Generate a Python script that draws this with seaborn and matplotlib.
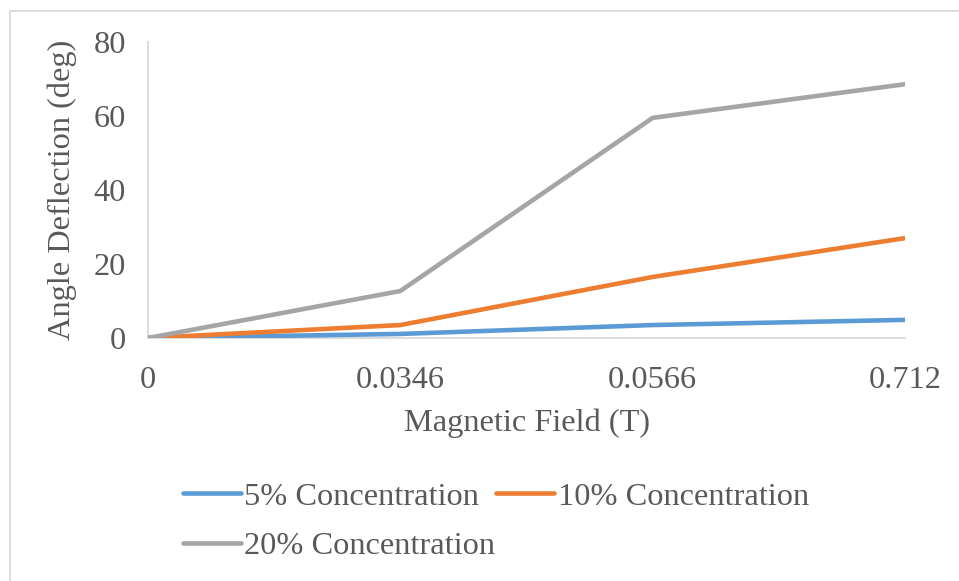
import matplotlib
matplotlib.use("Agg")
import matplotlib.pyplot as plt
import seaborn as sns
import pandas as pd
from matplotlib.patches import Rectangle

field = ["0", "0.0346", "0.0566", "0.712"]
conc_5 = [0.0, 1.1, 3.5, 4.9]
conc_10 = [0.0, 3.5, 16.5, 27.0]
conc_20 = [0.0, 12.7, 59.5, 68.6]
series_names = ["5% Concentration", "10% Concentration", "20% Concentration"]
colors = ["#5B9BD5", "#ED7D31", "#A5A5A5"]

rows = []
for name, vals in zip(series_names, [conc_5, conc_10, conc_20]):
    for f, v in zip(field, vals):
        rows.append({"Magnetic Field (T)": f, "Angle": v, "Series": name})
df = pd.DataFrame(rows)

sns.set_theme(style="white")
plt.rcParams["font.family"] = ["Liberation Serif", "DejaVu Serif"]
text_color = "#595959"
fs = 23.3

fig = plt.figure(figsize=(9.59, 5.81), dpi=100)
ax = fig.add_axes([148/959, 1-338/581, (905-148)/959, (338-42)/581])

sns.lineplot(data=df, x="Magnetic Field (T)", y="Angle", hue="Series",
             palette=colors, hue_order=series_names, sort=False,
             linewidth=3.3, ax=ax, legend=True)
for ln in ax.lines:
    ln.set_solid_capstyle("round")
    ln.set_solid_joinstyle("round")

ax.set_ylim(0, 80)
ax.set_xlim(0, 3)
ax.set_yticks([0, 20, 40, 60, 80])
ax.tick_params(axis="both", length=0, labelsize=fs, labelcolor=text_color)
ax.tick_params(axis="y", pad=16)
ax.tick_params(axis="x", pad=20)
for side in ["top", "right"]:
    ax.spines[side].set_visible(False)
for side in ["left", "bottom"]:
    ax.spines[side].set_color("#D9D9D9")
    ax.spines[side].set_linewidth(1.3)
    ax.spines[side].set_zorder(0.5)
ax.set_xlabel("Magnetic Field (T)", fontsize=fs, color=text_color, labelpad=10)
ax.set_ylabel("Angle Deflection (deg)", fontsize=fs, color=text_color, labelpad=12)

handles, labels = ax.get_legend_handles_labels()
ax.get_legend().remove()
order = [0, 2, 1]
leg = fig.legend([handles[i] for i in order], [labels[i] for i in order],
                 loc="upper left", bbox_to_anchor=(183/959, 1-482/581),
                 ncol=2, frameon=False, fontsize=fs, handlelength=1.8,
                 handletextpad=0.1, columnspacing=0.02, labelspacing=0.62,
                 borderpad=0, borderaxespad=0)
for t in leg.get_texts():
    t.set_color(text_color)
for h in leg.legend_handles:
    h.set_linewidth(3.3)
    h.set_solid_capstyle("round")

fig.add_artist(Rectangle((10/959, -0.1), 1.2, 1.1 - 11/581, transform=fig.transFigure,
                         fill=False, edgecolor="#D9D9D9", linewidth=1.3))

fig.savefig("out.png", dpi=100, facecolor="white")
